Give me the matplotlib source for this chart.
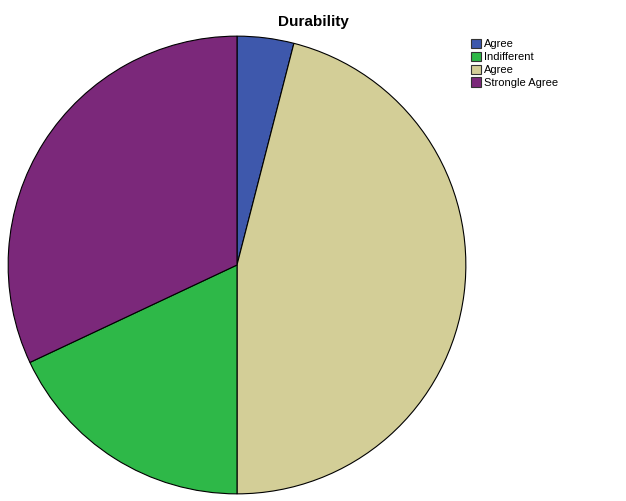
import matplotlib.pyplot as plt
from matplotlib.patches import Patch

plt.rcParams['font.family'] = ['Liberation Sans', 'DejaVu Sans']

# Legend order (as shown in the chart)
labels = ['Agree', 'Indifferent', 'Agree', 'Strongle Agree']
values = [4, 18, 46, 32]
colors = ['#3E58AC', '#2EB848', '#D3CE97', '#7B287A']

# Order in which the slices run clockwise from 12 o'clock
draw_order = [0, 2, 1, 3]

fig = plt.figure(figsize=(6.26, 5.01), dpi=100)
ax = fig.add_axes([7 / 626, 6 / 501, 460 / 626, 460 / 501])

ax.pie([values[i] for i in draw_order],
       colors=[colors[i] for i in draw_order],
       startangle=90, counterclock=False, radius=1,
       wedgeprops=dict(edgecolor='black', linewidth=0.8))
ax.set_xlim(-1.005, 1.005)
ax.set_ylim(-1.005, 1.005)
ax.set_axis_off()

fig.text(0.5, 1 - 22 / 501, 'Durability', ha='center', va='center',
         fontsize=11, fontweight='bold')

handles = [Patch(facecolor=c, edgecolor='#333333', linewidth=0.8) for c in colors]
fig.legend(handles, labels, loc='upper left',
           bbox_to_anchor=(463 / 626, 1 - 31 / 501), frameon=False,
           fontsize=8, handlelength=0.9, handleheight=0.9,
           handletextpad=0.3, labelspacing=0.22, borderpad=0.2)

fig.savefig('out.png', dpi=100)
